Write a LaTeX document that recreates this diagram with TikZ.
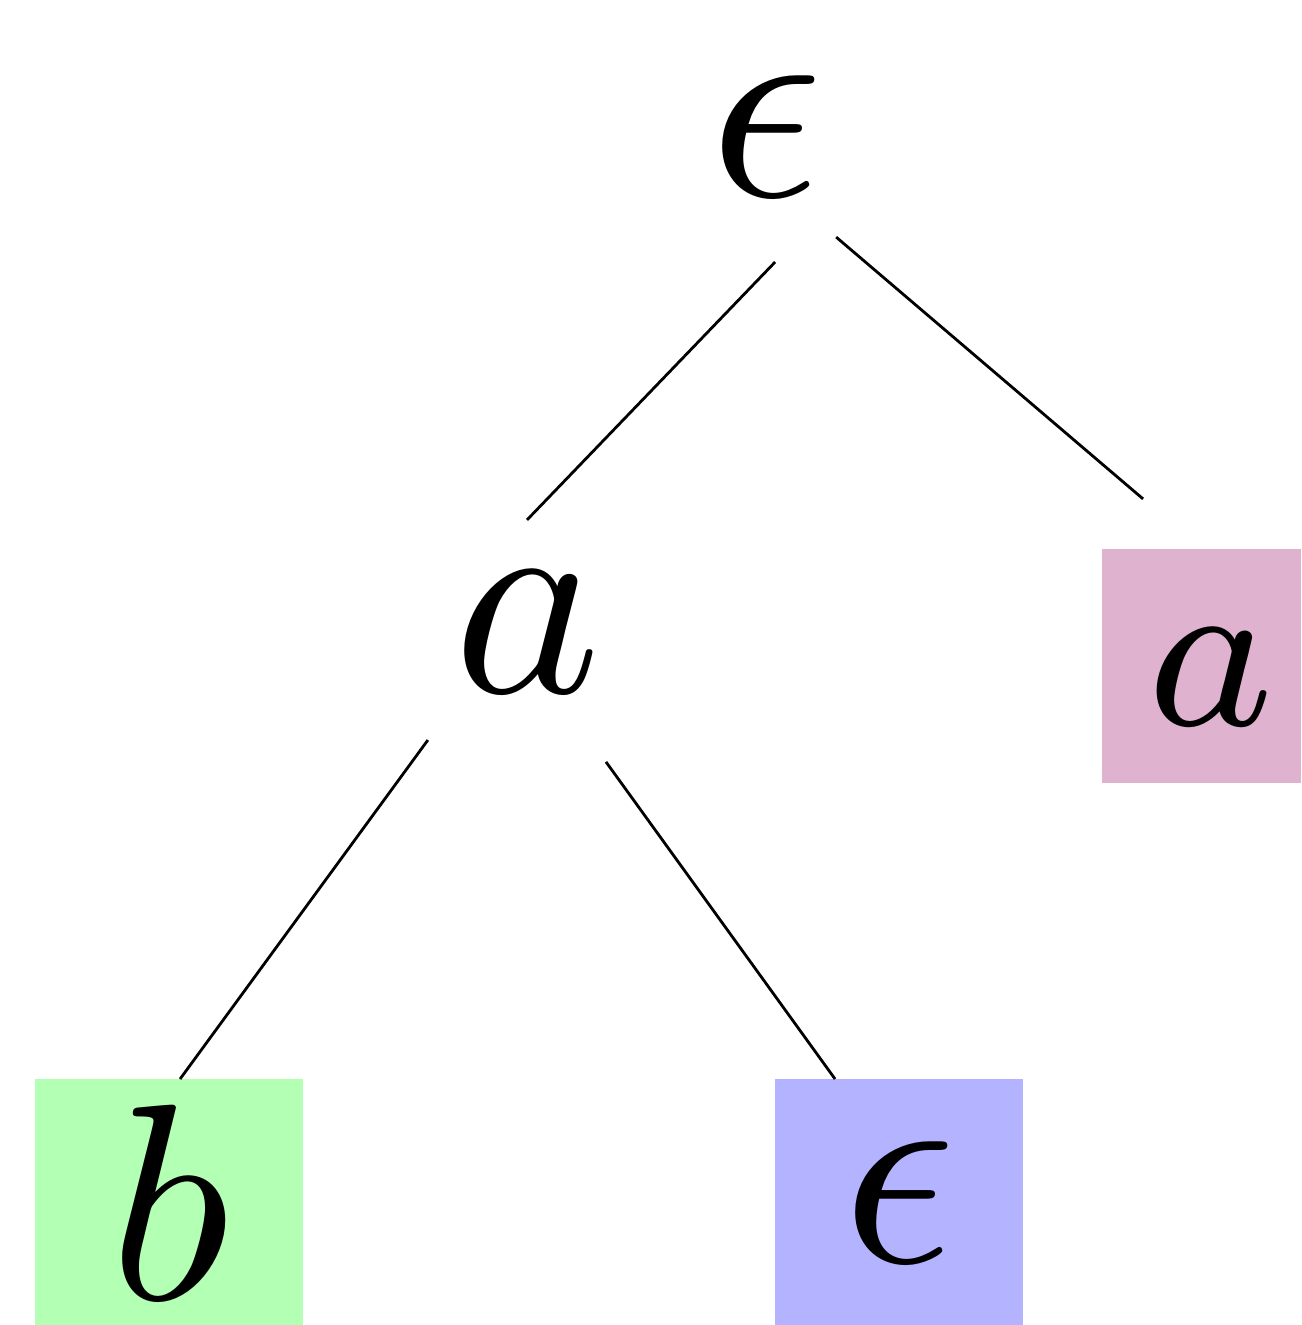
\documentclass[tikz,border=0pt]{standalone}
\usepackage{amsmath}
\usepackage{tikz}
\usetikzlibrary{positioning, calc}
\definecolor{myGreen}{HTML}{B3FFB3}
\definecolor{myBlue}{HTML}{B3B3FF}
\definecolor{myPink}{HTML}{DFB3CF}

\begin{document}
\begin{tikzpicture}[
x=1pt, y=-1pt,
lbl/.style={
inner sep=0pt,
outer sep=0pt
},
leaf/.style={
inner sep=0pt,
outer sep=0pt,
minimum height=8.79pt
},
edge/.style={line width=0.1pt, black}
]

\useasboundingbox (0,0) rectangle (46.46,47.32);

\node[lbl] (root) at (27.36,4.86) {$\epsilon$};

\node[lbl] (inner) at (18.82,22.57) {$a$};

\node[leaf, fill=myPink, minimum width=7.11pt, minimum height=8.36pt,
font=\footnotesize, text height=4.25pt] (aleaf) at (42.91,23.79) {$\hspace{0.64pt}a$};

\node[leaf, fill=myGreen, minimum width=9.57pt] (bleaf) at (6.04,42.93) {$b$};

\node[leaf, fill=myBlue, minimum width=8.86pt] (epsleaf) at (32.11,42.93) {$\epsilon$};


\draw[edge] ([shift={(0.32,4.5)}]root.center) -- ([shift={(0,-4)}]inner.center);
\draw[edge] ([shift={(2.5,3.61)}]root.center) -- ([shift={(-2.09,-1.79)}]aleaf.north);
\draw[edge] ([shift={(-3.54,3.86)}]inner.center) -- ([xshift=0.39pt]bleaf.north);
\draw[edge] ([shift={(2.82,4.64)}]inner.center) -- ([xshift=-2.29pt]epsleaf.north);

\end{tikzpicture}
\end{document}
